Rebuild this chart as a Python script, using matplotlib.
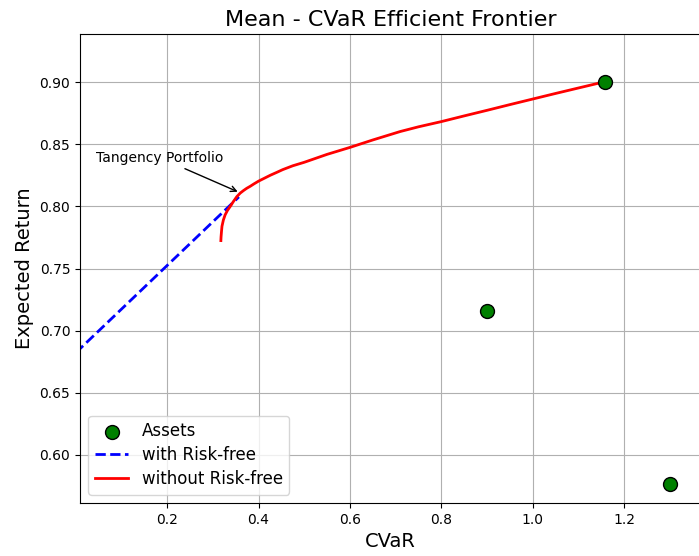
import numpy as np
import matplotlib
matplotlib.use("Agg")
import matplotlib.pyplot as plt

# Individual assets (CVaR, expected return)
asset_cvar = [1.157, 0.899, 1.300]
asset_ret = [0.900, 0.716, 0.576]

# Efficient frontier without the risk-free asset
frontier_cvar = [0.3176, 0.3180, 0.3190, 0.320, 0.323, 0.327, 0.332, 0.338,
                 0.345, 0.3527, 0.360, 0.367, 0.374, 0.382, 0.390, 0.400,
                 0.413, 0.426, 0.440, 0.453, 0.475, 0.500, 0.550, 0.600,
                 0.650, 0.710, 0.750, 0.800, 0.850, 0.900, 0.950, 1.000,
                 1.050, 1.100, 1.157]
frontier_ret = [0.7725, 0.7755, 0.7800, 0.7840, 0.7890, 0.7933, 0.7968, 0.8000,
                0.8040, 0.8080, 0.8108, 0.8128, 0.8146, 0.8163, 0.8182, 0.8204,
                0.8228, 0.8252, 0.8275, 0.8297, 0.8328, 0.8356, 0.8420, 0.8476,
                0.8536, 0.8604, 0.8642, 0.8684, 0.8730, 0.8775, 0.8821, 0.8866,
                0.8911, 0.8955, 0.9005]

# Capital market line with the risk-free asset
rf_return = 0.682
tangency = (0.357, 0.8077)

fig = plt.figure(figsize=(6.99, 5.56), dpi=100)
ax = fig.add_axes([80 / 699, 1 - 503 / 556, 621 / 699, 469 / 556])

cml_x = np.array([0.0, tangency[0]])
cml_y = np.array([rf_return, tangency[1]])

ax.scatter(asset_cvar, asset_ret, s=100, color="green", edgecolor="black",
           zorder=3, label="Assets")
ax.plot(cml_x, cml_y, "b--", linewidth=2, label="with Risk-free")
ax.plot(frontier_cvar, frontier_ret, "r-", linewidth=2, label="without Risk-free")

ax.annotate("Tangency Portfolio", xy=(0.36, 0.811), xytext=(0.045, 0.836),
            fontsize=10, arrowprops=dict(arrowstyle="->", color="black"))

ax.set_xlim(0.0094, 1.368)
ax.set_ylim(0.561, 0.939)
ax.set_title("Mean - CVaR Efficient Frontier", fontsize=16)
ax.set_xlabel("CVaR", fontsize=14)
ax.set_ylabel("Expected Return", fontsize=14)
ax.grid(True)
ax.legend(loc="lower left", fontsize=12, labelspacing=0.35)

fig.savefig("out.png", dpi=100)
